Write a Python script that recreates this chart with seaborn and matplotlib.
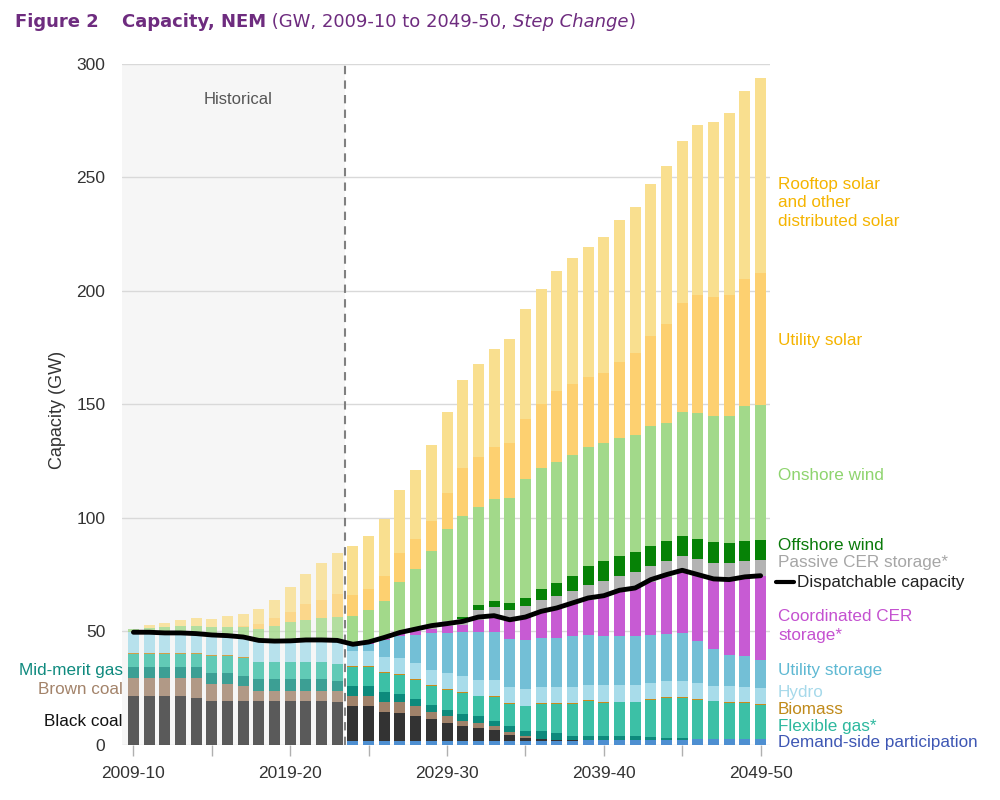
import matplotlib
matplotlib.use("Agg")
import matplotlib.pyplot as plt
import seaborn as sns
import numpy as np
import pandas as pd

years = ["2009-10", "2010-11", "2011-12", "2012-13", "2013-14", "2014-15", "2015-16",
         "2016-17", "2017-18", "2018-19", "2019-20", "2020-21", "2021-22", "2022-23",
         "2023-24", "2024-25", "2025-26", "2026-27", "2027-28", "2028-29", "2029-30",
         "2030-31", "2031-32", "2032-33", "2033-34", "2034-35", "2035-36", "2036-37",
         "2037-38", "2038-39", "2039-40", "2040-41", "2041-42", "2042-43", "2043-44",
         "2044-45", "2045-46", "2046-47", "2047-48", "2048-49", "2049-50"]
tick_labels = ["2009-10", "", "2019-20", "", "2029-30", "", "2039-40", "", "2049-50"]

demand_side = [0, 0, 0, 0, 0, 0, 0, 0, 0, 0, 0, 0, 0, 0,
               1.5, 1.5, 1.5, 1.5, 1.5, 1.5, 1.5, 1.5, 1.5, 1.5, 1.5, 1.5, 1.5, 1.5, 1.5,
               2.0, 2.2, 2.2, 2.2, 2.2, 2.2, 2.2, 2.5, 2.5, 2.5, 2.5, 2.5]
black_coal = [21.3, 21.3, 21.3, 21.3, 20.8, 19.1, 19.1, 19.1, 19.1, 19.1, 19.1, 19.1, 19.1, 18.7,
              15.4, 15.4, 12.8, 12.5, 11.3, 10.0, 8.3, 6.6, 5.8, 5.1, 2.9, 1.4, 1.1, 0.7, 0.4, 0.2,
              0, 0, 0, 0, 0, 0, 0, 0, 0, 0, 0]
brown_coal = [8.1, 8.1, 8.1, 8.1, 8.6, 7.8, 7.8, 6.6, 4.7, 4.7, 4.7, 4.7, 4.7, 5.1,
              4.7, 4.7, 4.7, 4.7, 4.4, 2.9, 2.7, 2.6, 2.2, 1.5, 1.2, 0.8,
              0, 0, 0, 0, 0, 0, 0, 0, 0, 0, 0, 0, 0, 0, 0]
mid_merit_gas = [4.9, 4.9, 4.9, 4.9, 4.9, 4.7, 4.7, 4.7, 5.2, 5.2, 5.2, 5.2, 5.2, 4.1,
                 4.4, 4.4, 4.1, 3.8, 2.9, 3.2, 2.9, 3.0, 3.0, 2.2, 2.5, 2.6, 3.3, 2.9, 2.1,
                 1.8, 1.8, 1.5, 1.5, 1.2, 0.7, 0.7, 0, 0, 0, 0, 0]
flexible_gas = [5.8, 5.8, 5.8, 5.8, 5.8, 7.4, 7.4, 7.7, 7.3, 7.3, 7.3, 7.3, 7.3, 7.5,
                8.3, 8.3, 8.5, 8.4, 8.6, 8.4, 8.9, 9.1, 8.8, 10.7, 10.0, 10.6, 12.2, 13.0,
                14.1, 15.3, 14.4, 15.0, 15.0, 16.5, 17.7, 17.7, 17.4, 16.6, 15.9, 15.9, 15.1]
biomass = [0.4, 0.4, 0.4, 0.4, 0.4, 0.4, 0.4, 0.4, 0.4, 0.4, 0.4, 0.4, 0.4, 0.4,
           0.3, 0.3, 0.3, 0.3, 0.3, 0.3, 0.3, 0.3, 0.3, 0.3, 0.3, 0.3, 0.3, 0.3,
           0.3, 0.3, 0.3, 0.3, 0.3, 0.3, 0.3, 0.3, 0.3, 0.3, 0.3, 0.3, 0.3]
hydro = [9.1, 9.1, 8.8, 8.8, 8.5, 9.0, 8.7, 9.0, 9.3, 9.0, 8.8, 9.1, 8.8, 9.2,
         6.9, 6.9, 6.8, 7.0, 7.0, 6.8, 7.0, 7.0, 7.1, 7.1, 7.0, 7.3, 7.0, 7.0,
         7.0, 6.9, 7.5, 7.5, 7.5, 7.0, 7.0, 7.0, 7.0, 6.3, 7.0, 6.7, 7.1]
utility_storage = [0, 0, 0, 0, 0, 0, 0, 0, 0, 0, 0.3, 0.4, 0.7, 1.0,
                   2.6, 2.9, 7.6, 9.6, 12.5, 16.1, 17.6, 19.4, 20.8, 21.1, 21.2, 21.8, 21.6,
                   21.6, 22.4, 21.8, 21.6, 21.6, 21.3, 21.3, 21.1, 21.4, 18.4, 16.5, 14.0,
                   13.6, 12.2]
coordinated_cer = [0, 0, 0, 0, 0, 0, 0, 0, 0, 0, 0, 0, 0, 0,
                   0, 0.6, 0.5, 1.2, 1.5, 1.8, 3.3, 3.4, 5.5, 6.5, 8.5, 10.2, 11.5, 13.0,
                   14.2, 15.7, 17.9, 19.5, 21.3, 23.1, 25.0, 26.7, 29.4, 30.9, 33.1, 34.5, 37.1]
passive_cer = [0, 0, 0, 0, 0, 0, 0, 0, 0, 0, 0, 0, 0, 0,
               0, 0.2, 0.2, 0.5, 1.2, 1.5, 1.9, 2.5, 4.5, 4.7, 4.4, 4.5, 5.5, 5.4,
               5.6, 6.6, 6.3, 6.8, 6.9, 7.2, 6.9, 7.2, 6.8, 7.0, 7.2, 7.6, 7.2]
offshore_wind = [0, 0, 0, 0, 0, 0, 0, 0, 0, 0, 0, 0, 0, 0, 0, 0, 0, 0, 0, 0, 0,
                 1.0, 2.0, 2.5, 3.0, 3.7, 4.7, 5.9, 7.0, 8.2, 8.9, 8.7, 8.9, 8.7, 8.9,
                 9.0, 8.9, 9.2, 8.8, 8.6, 8.6]
onshore_wind = [1.4, 2.0, 2.6, 3.0, 3.4, 3.3, 3.8, 4.2, 5.0, 6.6, 8.4, 8.7, 9.6, 10.3,
                12.5, 14.1, 16.2, 22.1, 26.3, 33.1, 40.7, 44.6, 43.2, 44.9, 46.3, 52.5,
                53.3, 53.4, 53.3, 52.4, 51.9, 51.9, 51.6, 53.2, 51.8, 54.4, 55.3, 55.8,
                56.1, 59.6, 59.8]
utility_solar = [0, 0, 0, 0, 0, 0.1, 0.2, 0.5, 2.4, 3.5, 4.5, 7.3, 8.0, 10.0,
                 9.6, 9.4, 11.1, 12.7, 13.2, 12.9, 15.9, 21.0, 22.1, 23.1, 24.2, 26.2,
                 28.0, 31.2, 30.9, 30.8, 31.2, 33.7, 36.0, 39.3, 43.9, 48.0, 52.2, 52.1,
                 53.3, 56.1, 58.0]
rooftop_solar = [0.2, 1.0, 1.8, 2.8, 3.5, 3.8, 4.5, 5.4, 6.4, 8.0, 11.0, 13.1, 16.2, 18.1,
                 21.3, 23.5, 25.3, 27.9, 30.3, 33.4, 35.8, 38.7, 41.0, 43.4, 46.0, 48.8,
                 50.7, 52.9, 55.5, 57.4, 59.8, 62.5, 64.6, 67.1, 69.6, 71.6, 74.9, 77.1,
                 80.3, 82.8, 85.8]
dispatchable = [49.6, 49.6, 49.3, 49.3, 49.0, 48.4, 48.1, 47.5, 46.0, 45.7, 45.8, 46.2, 46.2,
                46.0, 44.3, 45.3, 47.3, 49.5, 51.0, 52.5, 53.4, 54.4, 56.3, 56.9, 55.1, 56.3,
                58.8, 60.3, 62.5, 64.7, 65.7, 68.1, 69.1, 72.8, 75.0, 76.9, 75.0, 73.1, 72.8,
                74.0, 74.5]

layers = [
    ("Demand-side participation", demand_side, "#4e8fd1"),
    ("Black coal", black_coal, "#333333"),
    ("Brown coal", brown_coal, "#a0826a"),
    ("Mid-merit gas", mid_merit_gas, "#0d8a7c"),
    ("Flexible gas", flexible_gas, "#3cc0a6"),
    ("Biomass", biomass, "#c98a1c"),
    ("Hydro", hydro, "#a8dcea"),
    ("Utility storage", utility_storage, "#73bfd6"),
    ("Coordinated CER storage", coordinated_cer, "#c75bd3"),
    ("Passive CER storage", passive_cer, "#b3b3b3"),
    ("Offshore wind", offshore_wind, "#068206"),
    ("Onshore wind", onshore_wind, "#a2d98a"),
    ("Utility solar", utility_solar, "#fdd070"),
    ("Rooftop solar", rooftop_solar, "#f9df8f"),
]

sns.set_theme(style="white")
plt.rcParams["font.family"] = ["Liberation Sans", "DejaVu Sans"]

fig = plt.figure(figsize=(10, 8), dpi=100)
ax = fig.add_axes([0.122, 0.069, 0.648, 0.851])

n = len(years)
n_hist = 14
yrs = np.array(years)
bottom = np.zeros(n)
for name, vals, col in layers:
    v = np.array(vals, dtype=float)
    for sl, a in ((slice(0, n_hist), 0.8), (slice(n_hist, n), 1.0)):
        df = pd.DataFrame({"year": yrs[sl], "value": v[sl]})
        sns.barplot(data=df, x="year", y="value", order=years, bottom=bottom[sl],
                    color=col, alpha=a, saturation=1, width=0.7, errorbar=None,
                    linewidth=0, ax=ax, zorder=2)
    bottom += v

sns.lineplot(x=np.arange(n), y=dispatchable, color="black", linewidth=3.5, ax=ax,
             zorder=5, solid_capstyle="round", solid_joinstyle="round")

ax.axvspan(-0.75, 13.5, color="#f6f6f6", zorder=0, lw=0)
ax.axvline(13.5, color="#808080", ls=(0, (4, 3)), lw=1.5, zorder=4)

ax.set_xlim(-0.73, 40.6)
ax.set_ylim(0, 300)
ax.set_yticks(range(0, 301, 50))
ax.set_xticks(range(0, 41, 5))
ax.set_xticklabels(tick_labels)
ax.yaxis.grid(True, color="#d9d9d9", linewidth=1)
ax.xaxis.grid(False)
ax.set_axisbelow(True)
for s in ax.spines.values():
    s.set_visible(False)
ax.tick_params(axis="x", length=8, width=1, color="#b0b0b0", labelsize=12.5,
               pad=7, labelcolor="#333333", bottom=True, direction="out")
ax.tick_params(axis="y", length=0, pad=12, labelsize=12.5, labelcolor="#333333")
ax.set_xlabel("")
ax.set_ylabel("")

def fx(px):
    return px / 1000.0

def fy(py):
    return 1 - py / 800.0

fig.text(fx(57), fy(410), "Capacity (GW)", rotation=90, ha="center", va="center",
         fontsize=13, color="#333333")
fig.text(fx(238), fy(99), "Historical", ha="center", va="center", fontsize=12,
         color="#555555")

LS = 12.3
right_labels = [
    ("Rooftop solar\nand other\ndistributed solar", 203, "#f5b400"),
    ("Utility solar", 340, "#f5b400"),
    ("Onshore wind", 475, "#8ed46e"),
    ("Offshore wind", 545, "#0a7a0a"),
    ("Passive CER storage*", 563, "#a6a6a6"),
    ("Coordinated CER\nstorage*", 626, "#c451d0"),
    ("Utility storage", 671, "#5fb9d3"),
    ("Hydro", 692, "#a6d9ea"),
    ("Biomass", 709, "#c08a1a"),
    ("Flexible gas*", 726, "#2db89e"),
    ("Demand-side participation", 742, "#3e57b4"),
]
for txt, py, c in right_labels:
    fig.text(fx(778), fy(py), txt, ha="left", va="center", fontsize=LS, color=c,
             linespacing=1.3)

fig.add_artist(plt.Line2D([fx(776), fx(794)], [fy(582), fy(582)], color="black", lw=3,
                          transform=fig.transFigure))
fig.text(fx(797), fy(582), "Dispatchable capacity", ha="left", va="center",
         fontsize=LS, color="#222222")

left_labels = [
    ("Mid-merit gas", 671, "#0f8a7e"),
    ("Brown coal", 689, "#a3836a"),
    ("Black coal", 721, "#111111"),
]
for txt, py, c in left_labels:
    fig.text(fx(123), fy(py), txt, ha="right", va="center", fontsize=LS, color=c)

# Title
purple = "#6e2c7f"
fig.canvas.draw()
renderer = fig.canvas.get_renderer()
fig.text(fx(15), fy(22), "Figure 2", ha="left", va="center", fontsize=13,
         fontweight="bold", color=purple, family="DejaVu Sans")
parts = [
    ("Capacity, NEM", dict(fontweight="bold")),
    (" (GW, 2009-10 to 2049-50, ", dict()),
    ("Step Change", dict(style="italic")),
    (")", dict()),
]
x = fx(122)
for s, kw in parts:
    t = fig.text(x, fy(22), s, ha="left", va="center", fontsize=13, color=purple,
                 family="DejaVu Sans", **kw)
    bb = t.get_window_extent(renderer=renderer)
    x += bb.width / fig.bbox.width

fig.savefig("out.png", dpi=100)
